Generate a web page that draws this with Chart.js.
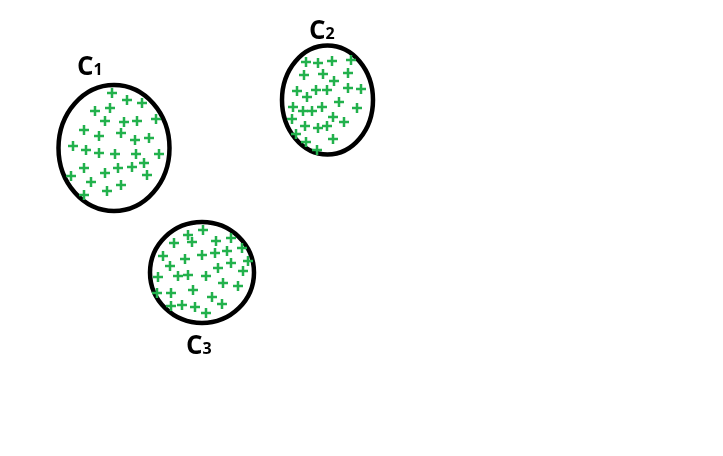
<!DOCTYPE html>
<html>
<head>
<meta charset="utf-8">
<script src="https://cdn.jsdelivr.net/npm/chart.js@4/dist/chart.umd.min.js"></script>
<style>
  html, body { margin: 0; padding: 0; background: #fff; }
  #wrap { width: 723px; height: 456px; }
</style>
</head>
<body>
<div id="wrap"><canvas id="plot" width="723" height="456"></canvas></div>
<script>
// points of each cluster
var c1X = [112, 127, 142, 95, 110, 156, 105, 124, 137, 84, 99, 121, 135, 149, 73, 86, 99, 115, 136, 159, 84, 105, 118, 132, 144, 147, 71, 91, 121, 107, 84];
var c1Y = [93, 100, 103, 111, 108, 119, 121, 122, 121, 130, 136, 133, 140, 138, 146, 150, 153, 154, 154, 154, 168, 173, 168, 167, 163, 175, 176, 182, 185, 191, 195];

var c2X = [306, 318, 332, 351, 304, 323, 348, 334, 297, 307, 316, 327, 348, 361, 293, 303, 312, 322, 339, 357, 292, 305, 318, 327, 333, 344, 296, 306, 333, 317];
var c2Y = [62, 63, 61, 60, 75, 74, 73, 81, 91, 97, 90, 90, 88, 89, 107, 111, 111, 107, 102, 108, 119, 126, 128, 126, 117, 122, 134, 142, 139, 150];

var c3X = [203, 188, 192, 174, 216, 231, 242, 227, 215, 202, 163, 185, 231, 248, 170, 218, 243, 158, 178, 188, 206, 223, 238, 193, 157, 171, 212, 171, 182, 195, 222, 206];
var c3Y = [230, 235, 242, 243, 241, 238, 248, 251, 253, 255, 256, 259, 263, 261, 266, 268, 271, 277, 276, 275, 276, 283, 286, 290, 293, 293, 297, 306, 305, 307, 304, 313];

// cluster outlines: centre and radii
var ringX = [114, 327.5, 202];
var ringY = [148, 100, 272.5];
var ringRx = [55.5, 45.5, 52];
var ringRy = [63, 54.5, 50.5];

// cluster names
var labelNames = ['C', 'C', 'C'];
var labelSubs = ['1', '2', '3'];
var labelX = [77, 309, 186];
var labelY = [75, 39, 354];

function toPoints(xs, ys) {
  return xs.map(function (x, i) { return { x: x, y: ys[i] }; });
}

var ringsPlugin = {
  id: 'rings',
  beforeDatasetsDraw: function (chart) {
    var ctx = chart.ctx, sx = chart.scales.x, sy = chart.scales.y;
    ctx.save();
    ctx.strokeStyle = '#000';
    ctx.lineWidth = 4.5;
    for (var i = 0; i < ringX.length; i++) {
      var cx = sx.getPixelForValue(ringX[i]);
      var cy = sy.getPixelForValue(ringY[i]);
      var rx = Math.abs(sx.getPixelForValue(ringX[i] + ringRx[i]) - cx);
      var ry = Math.abs(sy.getPixelForValue(ringY[i] + ringRy[i]) - cy);
      ctx.beginPath();
      ctx.ellipse(cx, cy, rx, ry, 0, 0, Math.PI * 2);
      ctx.stroke();
    }
    ctx.restore();
  },
  afterDatasetsDraw: function (chart) {
    var ctx = chart.ctx, sx = chart.scales.x, sy = chart.scales.y;
    ctx.save();
    ctx.fillStyle = '#000';
    ctx.textBaseline = 'alphabetic';
    for (var i = 0; i < labelNames.length; i++) {
      var px = sx.getPixelForValue(labelX[i]);
      var py = sy.getPixelForValue(labelY[i]);
      ctx.font = 'bold 26px "Open Sans"';
      ctx.fillText(labelNames[i], px, py);
      var w = ctx.measureText(labelNames[i]).width;
      ctx.font = 'bold 16px "Open Sans"';
      ctx.fillText(labelSubs[i], px + w, py);
    }
    ctx.restore();
  }
};

var crossStyle = {
  pointStyle: 'cross',
  pointRadius: 5,
  pointBorderWidth: 2.5,
  borderColor: '#22b14c',
  backgroundColor: '#22b14c',
  showLine: false
};

new Chart(document.getElementById('plot'), {
  type: 'scatter',
  data: {
    datasets: [
      Object.assign({ label: 'C1', data: toPoints(c1X, c1Y) }, crossStyle),
      Object.assign({ label: 'C2', data: toPoints(c2X, c2Y) }, crossStyle),
      Object.assign({ label: 'C3', data: toPoints(c3X, c3Y) }, crossStyle)
    ]
  },
  options: {
    responsive: false,
    animation: false,
    clip: false,
    layout: { padding: 0, autoPadding: false },
    plugins: { legend: { display: false }, tooltip: { enabled: false } },
    scales: {
      x: { type: 'linear', min: 0, max: 723, display: false },
      y: { type: 'linear', min: 0, max: 456, reverse: true, display: false }
    }
  },
  plugins: [ringsPlugin]
});
</script>
</body>
</html>
